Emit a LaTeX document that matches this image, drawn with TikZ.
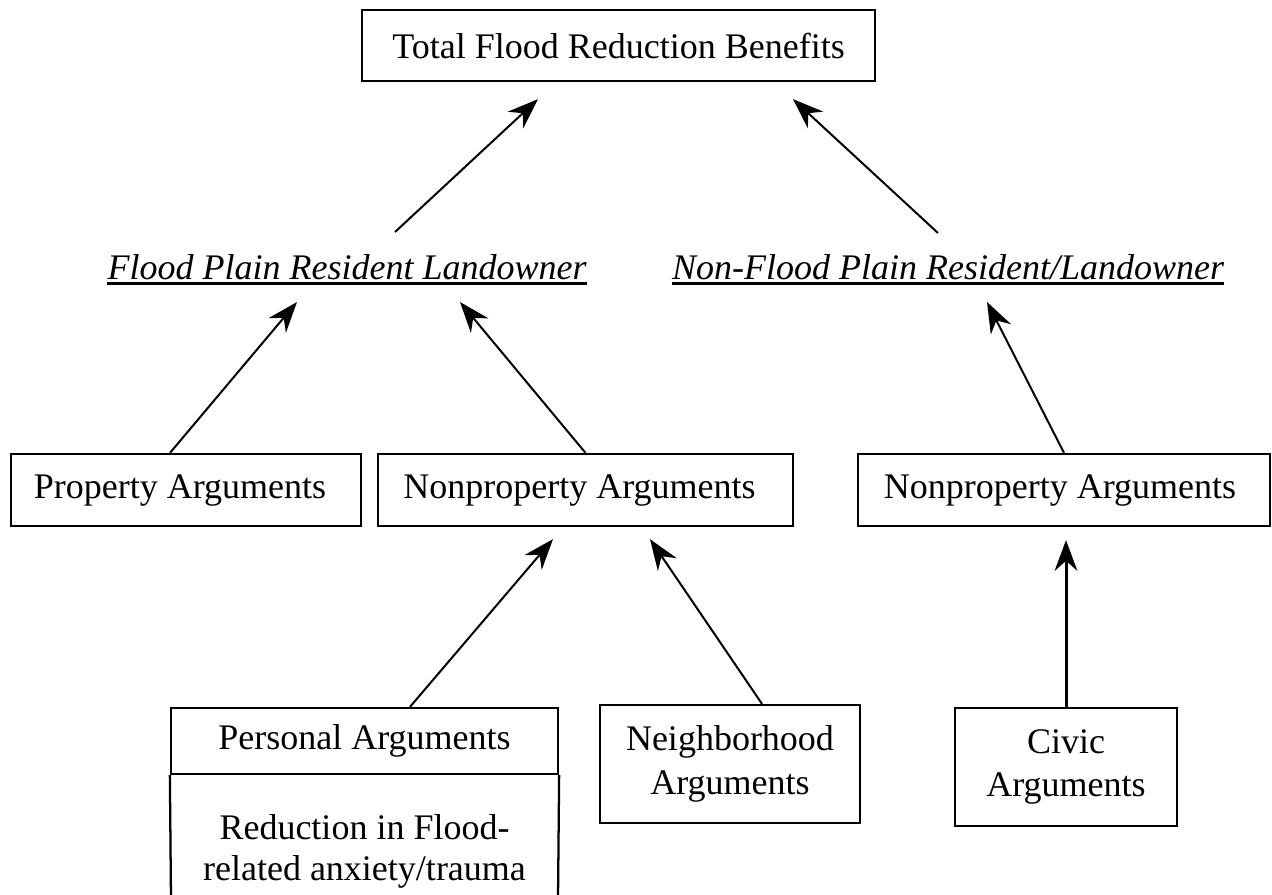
\documentclass[tikz,border=0pt]{standalone}
\usepackage{fontspec}
\setmainfont{Liberation Serif}
\usetikzlibrary{arrows.meta,calc}

\begin{document}
\begin{tikzpicture}[x=0.75pt,y=0.75pt,yscale=-1,xscale=1,
    every node/.style={font=\fontsize{27}{32.5}\selectfont},
    box/.style={draw,line width=1.7pt,inner sep=0pt,align=center},
    lbl/.style={anchor=base,inner sep=0pt,font=\fontsize{27}{32.5}\selectfont\itshape},
    uline/.style={line width=2pt},
    arr/.style={line width=1.5pt,-{Stealth[length=23pt,width=17pt,inset=7.5pt]}}]
      \useasboundingbox (0,0) rectangle (1272,894);
      \draw (618.5,45.5) node [box,minimum width=384.75pt,minimum height=53.25pt] (total) {Total Flood Reduction Benefits};
      \draw (347,279) node [lbl] (flood) {Flood Plain Resident Landowner};
      \draw (948,279) node [lbl] (nonflood) {Non-Flood Plain Resident/Landowner};
      \draw [uline] ($(flood.base west)+(0,4.5)$) -- ($(flood.base east)+(0,4.5)$);
      \draw [uline] ($(nonflood.base west)+(0,4.5)$) -- ($(nonflood.base east)+(0,4.5)$);
      \draw (186,490) node [box,minimum width=262.5pt,minimum height=54pt] (prop) {Property Arguments\hspace*{9pt}};
      \draw (585.5,490) node [box,minimum width=311.25pt,minimum height=54pt] (nonprop) {Nonproperty Arguments\hspace*{9pt}};
      \draw (1064,490) node [box,minimum width=309pt,minimum height=54pt] (nonprop2) {Nonproperty Arguments\hspace*{6pt}};
      \draw (364.5,741) node [box,minimum width=290.25pt,minimum height=49.5pt] (personal) {Personal Arguments};
      \draw (364.5,851) node [inner sep=0pt,align=center,font=\fontsize{27}{30.75}\selectfont] (personalbody) {Reduction in Flood-\\related anxiety/trauma};
      \draw (730,764) node [box,minimum width=195pt,minimum height=88.5pt] (neigh) {Neighborhood\\Arguments};
      \draw (1066,767) node [box,minimum width=166.5pt,minimum height=88.5pt] (civic) {Civic\\Arguments};
      \coordinate (pbl) at (171,900);
      \coordinate (pbr) at (558,900);
      \draw [line width=1.7pt] (personal.south west) -- (pbl) (personal.south east) -- (pbr);
      \draw [arr] ($(flood.base)+(48,-47)$) -- ($(total.south)+(-80.5,17)$);
      \draw [arr] ($(nonflood.base)+(-10,-46)$) -- ($(total.south)+(174.5,17)$);
      \draw [arr] ($(prop.north)+(-16,0)$) -- ($(flood.base)+(-50,23)$);
      \draw [arr] (nonprop.north) -- ($(flood.base)+(113,23)$);
      \draw [arr] (nonprop2.north) -- ($(nonflood.base)+(39,23)$);
      \draw [arr] ($(personal.north)+(45.5,0)$) -- ($(nonprop.south)+(-32.5,12)$);
      \draw [arr] ($(neigh.north)+(32,0)$) -- ($(nonprop.south)+(64.5,12)$);
      \draw [arr,line width=2.25pt] (civic.north) -- ($(nonprop2.south -| civic.north)+(0,13)$);
\end{tikzpicture}
\end{document}
